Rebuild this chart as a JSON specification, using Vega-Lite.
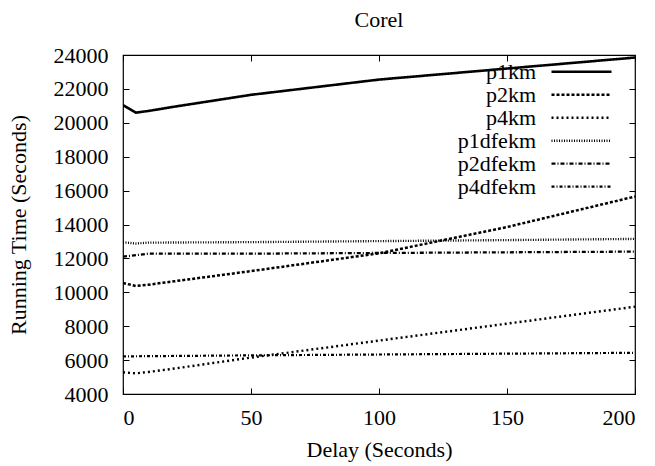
{
  "$schema": "https://vega.github.io/schema/vega-lite/v6.json",
  "width": 512,
  "height": 339,
  "autosize": {"type": "none"},
  "padding": {"left": 123, "top": 55, "right": 20, "bottom": 72},
  "background": "white",
  "title": {"text": "Corel", "font": "Liberation Serif", "fontSize": 22, "fontWeight": "normal", "color": "black", "anchor": "middle", "offset": 12},
  "config": {
    "view": {"stroke": "black", "strokeWidth": 1.2},
    "axis": {"labelFont": "Liberation Serif", "labelFontSize": 22, "labelColor": "black", "titleFont": "Liberation Serif", "titleFontSize": 22, "titleFontWeight": "normal", "titleColor": "black", "domain": false, "grid": false, "tickColor": "black", "tickSize": -6, "tickWidth": 1}
  },
  "data": {"values": [
    {"series": "p1km", "delay": 0, "time": 21050},
    {"series": "p1km", "delay": 5, "time": 20600},
    {"series": "p1km", "delay": 10, "time": 20700},
    {"series": "p1km", "delay": 20, "time": 20950},
    {"series": "p1km", "delay": 50, "time": 21650},
    {"series": "p1km", "delay": 100, "time": 22550},
    {"series": "p1km", "delay": 150, "time": 23200},
    {"series": "p1km", "delay": 200, "time": 23850},
    {"series": "p2km", "delay": 0, "time": 10550},
    {"series": "p2km", "delay": 5, "time": 10370},
    {"series": "p2km", "delay": 10, "time": 10450},
    {"series": "p2km", "delay": 20, "time": 10650},
    {"series": "p2km", "delay": 50, "time": 11250},
    {"series": "p2km", "delay": 100, "time": 12300},
    {"series": "p2km", "delay": 150, "time": 13850},
    {"series": "p2km", "delay": 200, "time": 15650},
    {"series": "p4km", "delay": 0, "time": 5280},
    {"series": "p4km", "delay": 5, "time": 5220},
    {"series": "p4km", "delay": 10, "time": 5300},
    {"series": "p4km", "delay": 20, "time": 5500},
    {"series": "p4km", "delay": 50, "time": 6150},
    {"series": "p4km", "delay": 100, "time": 7150},
    {"series": "p4km", "delay": 150, "time": 8150},
    {"series": "p4km", "delay": 200, "time": 9150},
    {"series": "p1dfekm", "delay": 0, "time": 12950},
    {"series": "p1dfekm", "delay": 5, "time": 12880},
    {"series": "p1dfekm", "delay": 10, "time": 12930},
    {"series": "p1dfekm", "delay": 50, "time": 12960},
    {"series": "p1dfekm", "delay": 100, "time": 13020},
    {"series": "p1dfekm", "delay": 150, "time": 13080},
    {"series": "p1dfekm", "delay": 200, "time": 13150},
    {"series": "p2dfekm", "delay": 0, "time": 12100},
    {"series": "p2dfekm", "delay": 10, "time": 12280},
    {"series": "p2dfekm", "delay": 50, "time": 12280},
    {"series": "p2dfekm", "delay": 100, "time": 12320},
    {"series": "p2dfekm", "delay": 150, "time": 12360},
    {"series": "p2dfekm", "delay": 200, "time": 12400},
    {"series": "p4dfekm", "delay": 0, "time": 6220},
    {"series": "p4dfekm", "delay": 50, "time": 6280},
    {"series": "p4dfekm", "delay": 100, "time": 6330},
    {"series": "p4dfekm", "delay": 150, "time": 6380},
    {"series": "p4dfekm", "delay": 200, "time": 6430}
  ]},
  "layer": [
    {
      "mark": {"type": "line", "stroke": "black", "clip": true},
      "encoding": {
        "x": {"field": "delay", "type": "quantitative", "scale": {"domain": [0, 200], "nice": false, "zero": false},
              "axis": {"orient": "bottom", "values": [0, 50, 100, 150, 200], "title": "Delay (Seconds)", "labelPadding": 19, "titlePadding": 11}},
        "y": {"field": "time", "type": "quantitative", "scale": {"domain": [4000, 24000], "nice": false, "zero": false},
              "axis": {"orient": "left", "values": [4000, 6000, 8000, 10000, 12000, 14000, 16000, 18000, 20000, 22000, 24000], "format": "d", "title": "Running Time (Seconds)", "labelPadding": 21, "titlePadding": 23}},
        "strokeDash": {"field": "series", "type": "nominal",
          "scale": {"domain": ["p1km", "p2km", "p4km", "p1dfekm", "p2dfekm", "p4dfekm"],
                    "range": [[1, 0], [3, 2], [2, 3], [1, 1.5], [4, 2, 1, 2], [3, 2, 1, 2]]},
          "legend": {"title": null, "orient": "none", "legendX": 447, "legendY": 5.2, "padding": 0,
                     "symbolType": "M-3,0H3", "symbolSize": 400, "symbolStrokeColor": "black", "symbolFillColor": "transparent", "rowPadding": -0.3,
                     "labelAlign": "right", "labelOffset": -57, "labelFont": "Liberation Serif", "labelFontSize": 22, "labelColor": "black", "labelBaseline": "middle", "labelLimit": 300}},
        "strokeWidth": {"field": "series", "type": "nominal",
          "scale": {"domain": ["p1km", "p2km", "p4km", "p1dfekm", "p2dfekm", "p4dfekm"], "range": [2.6, 2.2, 2, 1.8, 2, 2]},
          "legend": {"title": null, "orient": "none", "legendX": 447, "legendY": 5.2, "padding": 0,
                     "symbolType": "M-3,0H3", "symbolSize": 400, "symbolStrokeColor": "black", "symbolFillColor": "transparent", "rowPadding": -0.3,
                     "labelAlign": "right", "labelOffset": -57, "labelFont": "Liberation Serif", "labelFontSize": 22, "labelColor": "black", "labelBaseline": "middle", "labelLimit": 300}}
      }
    },
    {
      "mark": {"type": "line", "opacity": 0},
      "encoding": {
        "detail": {"field": "series", "type": "nominal"},
        "x": {"field": "delay", "type": "quantitative", "axis": {"orient": "top", "values": [0, 50, 100, 150, 200], "labels": false, "title": null}},
        "y": {"field": "time", "type": "quantitative", "axis": {"orient": "right", "values": [4000, 6000, 8000, 10000, 12000, 14000, 16000, 18000, 20000, 22000, 24000], "labels": false, "title": null}}
      }
    }
  ],
  "resolve": {"axis": {"x": "independent", "y": "independent"}}
}
